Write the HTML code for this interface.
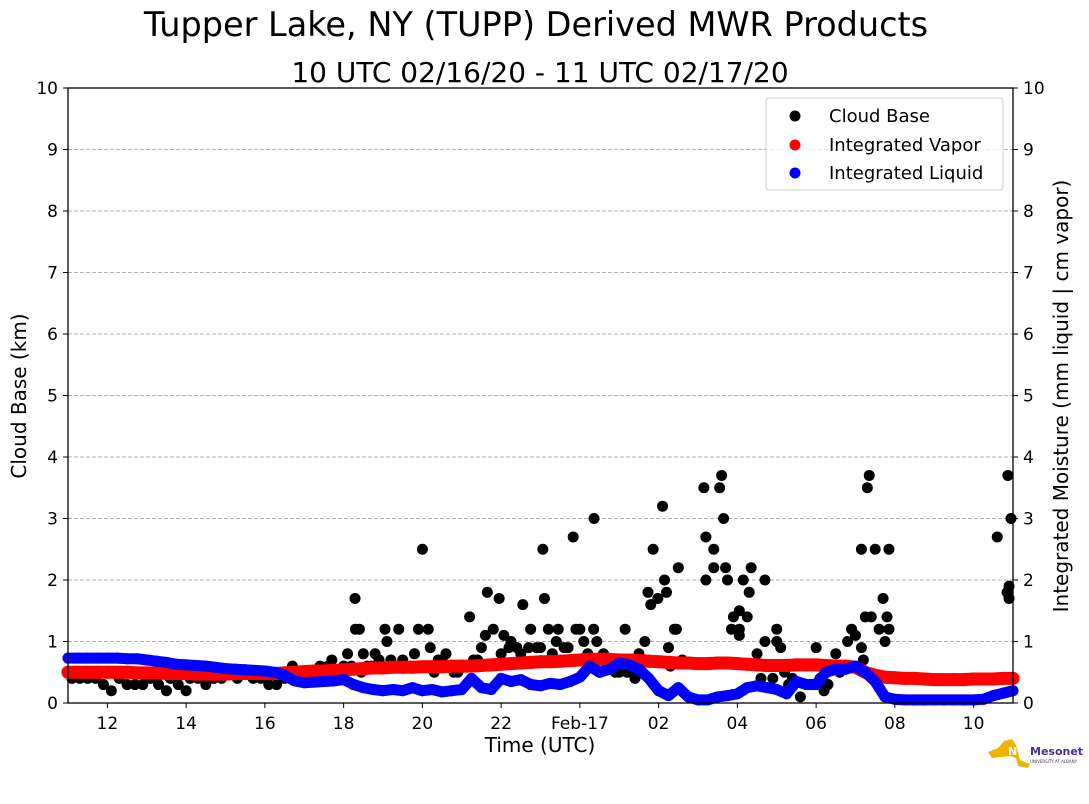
<!DOCTYPE html>
<html><head><meta charset="utf-8">
<style>
html,body{margin:0;padding:0;background:#fff;}
svg{display:block;font-family:"DejaVu Sans","Liberation Sans",sans-serif;}
</style></head>
<body>
<svg id="chart" width="1089" height="804" viewBox="0 0 1089 804">
<text x="536" y="36" font-size="33.5" text-anchor="middle">Tupper Lake, NY (TUPP) Derived MWR Products</text>
<text x="540" y="82" font-size="28" text-anchor="middle">10 UTC 02/16/20 - 11 UTC 02/17/20</text>
<g id="grid"></g>
<g id="marks"></g>
<g id="axes"></g>
<text x="540" y="752" font-size="20" text-anchor="middle">Time (UTC)</text>
<text transform="translate(26,396) rotate(-90)" font-size="20" text-anchor="middle">Cloud Base (km)</text>
<text transform="translate(1068,396) rotate(-90)" font-size="20" text-anchor="middle">Integrated Moisture (mm liquid | cm vapor)</text>
<g>
<rect x="766" y="98" width="237" height="92" rx="3" fill="#fff" fill-opacity="0.8" stroke="#ccc"/>
<g><circle cx="795" cy="116" r="5.5" fill="#000"/><text x="829" y="122" font-size="18">Cloud Base</text></g>
<g><circle cx="795" cy="145" r="5.5" fill="#f00"/><text x="829" y="151" font-size="18">Integrated Vapor</text></g>
<g><circle cx="795" cy="173" r="5.5" fill="#00f"/><text x="829" y="179" font-size="18">Integrated Liquid</text></g>
</g>
<g>
<polygon points="988,752 998,748 1004,741 1012,739 1016,745 1020,760 1030,764 1028,768 1018,766 1016,758 1010,756 992,758" fill="#f0b400"/>
<text x="1008" y="755" font-size="11" font-weight="bold" fill="#fff">NYS</text>
<text x="1030" y="755" font-size="11" font-weight="bold" fill="#4b2e83">Mesonet</text>
<text x="1030" y="763" font-size="4" fill="#4b2e83">UNIVERSITY AT ALBANY</text>
</g>
</svg>
<script>
const xTickHours=[12,14,16,18,20,22,24,26,28,30,32,34];
const xTickLabels=["12","14","16","18","20","22","Feb-17","02","04","06","08","10"];
const yTicks=[0,1,2,3,4,5,6,7,8,9,10];
const liqValues=[.73,.73,.73,.73,.73,.73,.72,.72,
.70,.68,.66,.63,.62,.61,.60,.58,
.56,.55,.54,.53,.52,.50,.45,.36,
.33,.34,.35,.36,.38,.30,.25,.22,
.20,.22,.20,.25,.20,.22,.18,.20,
.22,.40,.25,.22,.40,.35,.38,.30,
.28,.32,.30,.35,.42,.60,.50,.55,
.65,.62,.55,.40,.20,.12,.25,.10,
.05,.05,.10,.12,.15,.25,.28,.25,
.22,.15,.35,.30,.30,.50,.55,.55,
.60,.50,.35,.10,.06,.05,.05,.05,
.05,.05,.05,.05,.05,.06,.12,.16,.20];
const vapValues=[.50,.50,.50,.50,.50,.50,.50,.49,
.49,.49,.48,.48,.48,.47,.47,.47,
.47,.48,.48,.48,.48,.48,.49,.50,
.51,.52,.52,.53,.54,.55,.56,.57,
.57,.58,.58,.58,.59,.59,.59,.60,
.60,.60,.61,.62,.63,.64,.65,.66,
.67,.67,.68,.69,.70,.71,.71,.71,
.70,.70,.69,.68,.67,.66,.65,.65,
.64,.64,.65,.65,.64,.63,.62,.61,
.61,.61,.62,.62,.62,.61,.60,.60,
.58,.50,.45,.42,.41,.40,.40,.39,
.38,.38,.38,.38,.39,.39,.39,.40,.40];
const seriesStartHour=11, seriesStepHour=0.25;
const cbTime=[11.1,11.3,11.5,11.7,11.9,12.0,12.1,12.3,12.5,12.7,12.9,13.1,13.3,13.5,13.6,13.8,14.0,14.1,14.3,14.5,14.7,14.9,15.1,15.3,15.5,15.7,15.9,16.1,16.3,16.5,16.7,17.0,17.4,17.7,18.0,18.1,18.29,18.3,18.4,18.5,18.6,18.8,19.05,19.1,19.2,19.4,19.6,19.8,19.9,20.0,20.15,20.2,20.4,20.6,20.8,21.0,21.2,21.3,21.5,21.6,21.65,21.8,21.95,22.07,22.25,22.4,22.55,22.75,22.9,23.06,23.1,23.2,23.3,23.45,23.6,23.83,23.9,24.0,24.2,24.35,24.36,24.43,24.6,24.8,25.0,25.15,25.3,25.5,25.65,25.73,25.8,25.86,25.98,26.1,26.15,26.2,26.25,26.4,26.45,26.5,
27.15,27.6,27.55,27.65,27.2,27.4,27.4,27.7,27.2,27.75,28.15,28.35,28.3,28.7,27.9,28.05,28.25,27.85,28.05,28.05,28.5,28.7,29.0,29.0,29.1,28.6,29.2,29.4,29.6,30.0,30.1,30.2,30.3,30.5,30.8,30.9,31.0,31.15,31.2,31.15,31.3,31.35,31.5,31.85,31.25,31.4,31.7,31.8,31.6,31.85,31.75,34.6,34.87,34.95,34.85,34.9,34.9,
16.9,17.2,17.6,17.9,18.2,18.45,18.7,18.9,19.3,19.5,19.7,20.3,20.5,20.7,20.9,21.1,21.4,21.7,22.0,22.2,22.5,22.7,23.0,23.4,23.7,24.1,24.5,24.7,24.9,25.2,25.4,26.3,26.6,28.9,29.3,29.8,30.4,30.6];
const cbHeight=[0.4,0.4,0.4,0.4,0.3,0.5,0.2,0.4,0.3,0.3,0.3,0.4,0.3,0.2,0.4,0.3,0.2,0.4,0.4,0.3,0.4,0.4,0.5,0.4,0.5,0.4,0.4,0.3,0.3,0.4,0.6,0.5,0.6,0.7,0.6,0.8,1.7,1.2,1.2,0.8,0.6,0.8,1.2,1.0,0.7,1.2,0.6,0.8,1.2,2.5,1.2,0.9,0.7,0.8,0.5,0.6,1.4,0.7,0.9,1.1,1.8,1.2,1.7,1.1,1.0,0.9,1.6,1.2,0.9,2.5,1.7,1.2,0.8,1.2,0.9,2.7,1.2,1.2,0.8,1.2,3.0,1.0,0.8,0.6,0.5,1.2,0.5,0.8,1.0,1.8,1.6,2.5,1.7,3.2,2.0,1.8,0.9,1.2,1.2,2.2,
3.5,3.7,3.5,3.0,2.7,2.5,2.2,2.2,2.0,2.0,2.0,2.2,1.8,2.0,1.4,1.5,1.4,1.2,1.2,1.1,0.8,1.0,1.2,1.0,0.9,0.4,0.5,0.4,0.1,0.9,0.4,0.2,0.3,0.8,1.0,1.2,1.1,0.9,0.7,2.5,3.5,3.7,2.5,2.5,1.4,1.4,1.7,1.4,1.2,1.2,1.0,2.7,3.7,3.0,1.8,1.9,1.7,
0.5,0.5,0.6,0.5,0.6,0.5,0.6,0.7,0.6,0.7,0.6,0.5,0.7,0.6,0.5,0.6,0.7,0.6,0.8,0.9,0.8,0.9,0.9,1.0,0.9,1.0,0.7,0.6,0.5,0.5,0.4,0.6,0.7,0.4,0.3,0.3,0.6,0.5];
const X0=68,X1=1013,Y0=703,Y1=88,H0=11,H1=35,V0=0,V1=10;
function xs(h){return X0+(h-H0)/(H1-H0)*(X1-X0);}
function ys(v){return Y0-(v-V0)/(V1-V0)*(Y0-Y1);}
const NS="http://www.w3.org/2000/svg";
function mk(tag,attrs,parent){const e=document.createElementNS(NS,tag);for(const k in attrs)e.setAttribute(k,attrs[k]);parent.appendChild(e);return e;}
const grid=document.getElementById('grid'),marks=document.getElementById('marks'),axes=document.getElementById('axes');
yTicks.forEach(v=>{
 if(v>0&&v<10){const l=mk('line',{x1:X0,x2:X1,y1:ys(v),y2:ys(v),stroke:'#b0b0b0','stroke-dasharray':'4,2','stroke-width':1},grid);
 
 }
 const tl=mk('text',{x:X0-10,y:ys(v)+6,'font-size':17,'text-anchor':'end'},axes);tl.textContent=v;
 
 
 const tr=mk('text',{x:X1+10,y:ys(v)+6,'font-size':17,'text-anchor':'start'},axes);tr.textContent=v;
 
 
 mk('line',{x1:X0-5,x2:X0,y1:ys(v),y2:ys(v),stroke:'#000'},axes);
 mk('line',{x1:X1,x2:X1+5,y1:ys(v),y2:ys(v),stroke:'#000'},axes);
});
xTickHours.forEach((h,i)=>{
 mk('line',{x1:xs(h),x2:xs(h),y1:Y0,y2:Y0+5,stroke:'#000'},axes);
 const t=mk('text',{x:xs(h),y:Y0+26,'font-size':17,'text-anchor':'middle'},axes);t.textContent=xTickLabels[i];
 
 
});
const frame=mk('rect',{x:X0,y:Y1,width:X1-X0,height:Y0-Y1,fill:'none',stroke:'#000','stroke-width':1.3},axes);


function series(vals,color,name,w){
 const g=mk('g',{},marks);
 
 
 const pts=vals.map((v,i)=>xs(seriesStartHour+i*seriesStepHour).toFixed(1)+','+ys(v).toFixed(1)).join(' ');
 mk('polyline',{points:pts,fill:'none',stroke:color,'stroke-width':w,'stroke-linejoin':'round','stroke-linecap':'round'},g);
 vals.forEach((v,i)=>{const c=mk('circle',{cx:xs(seriesStartHour+i*seriesStepHour),cy:ys(v),r:w/2,fill:color},g);
 
 });
}
const cb=mk('g',{},marks);


cbTime.forEach((h,i)=>{const c=mk('circle',{cx:xs(h),cy:ys(cbHeight[i]),r:5.5,fill:'#000'},cb);
 
 });
series(vapValues,'#f00','integrated-vapor-series',13);
series(liqValues,'#00f','integrated-liquid-series',11);
</script>
</body></html>
